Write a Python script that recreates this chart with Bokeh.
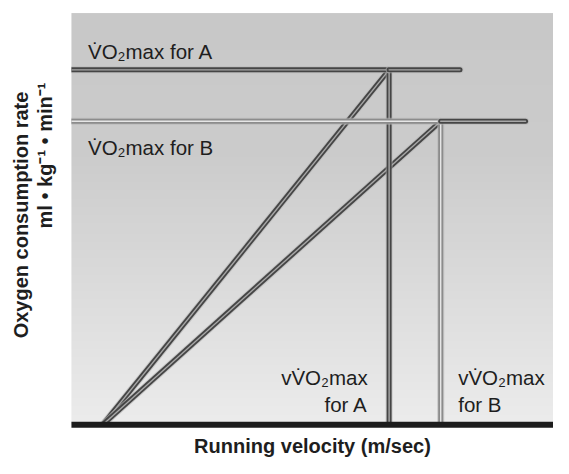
import numpy as np
from bokeh.plotting import figure
from bokeh.models import Range1d
from bokeh.embed import file_html
from bokeh.resources import INLINE
from bokeh.core.properties import value

# ---------------- data (arbitrary units) ----------------
runners = ["A", "B"]
v_start = 6.5                 # velocity where both VO2 lines start
vvo2max = [65.9, 76.6]        # vVO2max for A, B
vo2max = [86.2, 73.7]         # VO2max for A, B
plateau_end = [80.6, 94.2]    # where each VO2max plateau line ends
chart_top = 100.0
chart_right = 100.0
x_label = "Running velocity (m/sec)"
y_label = ["Oxygen consumption rate", "ml \u2022 kg\u207b\u00b9 \u2022 min\u207b\u00b9"]
vo2_text = "V\u0307O\u2082max"

# ---------------- layout ----------------
W, H = 553, 458
REF_W, REF_H = 569, 474
RX0, RY0 = 73, 439          # reference px of the origin
RPX_X, RPX_Y = 4.96, 4.26   # reference px per data unit
BL = 7                      # baseline correction (px) for text anchors


def dx(px):
    return px / RPX_X


def dy(px):
    return px / RPX_Y


p = figure(width=W, height=H, output_backend="svg", toolbar_location=None,
           x_range=Range1d(-RX0 / RPX_X, (REF_W - RX0) / RPX_X),
           y_range=Range1d(-(REF_H - RY0) / RPX_Y, RY0 / RPX_Y),
           min_border=0, outline_line_color=None)
p.axis.visible = False
p.grid.visible = False
p.background_fill_color = "white"
p.border_fill_color = "white"

# gradient background of the chart area
n = 200
t = np.linspace(0, 1, n)  # 0 bottom -> 1 top
g = np.where(t > 0.65, 204 - (t - 0.65) / 0.35 * 4, 236 - t / 0.65 * 32).astype(np.uint32)
img = np.zeros((n, 1), dtype=np.uint32)
view = img.view(dtype=np.uint8).reshape((n, 1, 4))
view[:, 0, 0] = g
view[:, 0, 1] = g
view[:, 0, 2] = g
view[:, 0, 3] = 255
p.image_rgba(image=[img], x=0, y=0, dw=chart_right, dh=chart_top)

FONT = value("Liberation Sans")


def tube(xs, ys, dark, light, cap="butt"):
    p.line(xs, ys, line_width=7, line_color="#b4b4b4", line_alpha=0.6, line_cap=cap)
    p.line(xs, ys, line_width=5, line_color=dark, line_cap=cap)
    p.line(xs, ys, line_width=1.4, line_color=light, line_cap=cap)


DARK, DARK_IN = "#454545", "#a8a8a8"
LIGHT, LIGHT_IN = "#8c8c8c", "#e6e6e6"

vA, vB = vvo2max
oA, oB = vo2max
eA, eB = plateau_end

# diagonals
tube([v_start, vA], [0, oA], DARK, DARK_IN)
tube([v_start, vB], [0, oB], DARK, DARK_IN)
# verticals
tube([vA, vA], [0, oA], DARK, DARK_IN)
tube([vB, vB], [0, oB], LIGHT, LIGHT_IN)
# plateaus
tube([0, vA], [oA, oA], DARK, DARK_IN)
tube([vA, eA], [oA, oA], DARK, DARK_IN, cap="round")
tube([0, vB], [oB, oB], LIGHT, LIGHT_IN)
tube([vB, eB], [oB, oB], DARK, DARK_IN, cap="round")

# x axis bar
p.line([0, chart_right], [0, 0], line_width=6, line_color="#1c1c1c")

TXT = dict(text_font=FONT, text_font_size="20.5px", text_color="#1e1e1e")
p.text(x=[dx(17)], y=[oA + dy(12 + BL)], text=[vo2_text + " for " + runners[0]],
       text_align="left", text_baseline="alphabetic", **TXT)
p.text(x=[dx(17)], y=[oB - dy(34 - BL)], text=[vo2_text + " for " + runners[1]],
       text_align="left", text_baseline="alphabetic", **TXT)
p.text(x=[vA - dx(22)] * 2, y=[dy(42 + BL), dy(14 + BL)],
       text=["v" + vo2_text, "for " + runners[0]],
       text_align="right", text_baseline="alphabetic", **TXT)
p.text(x=[vB + dx(18)] * 2, y=[dy(42 + BL), dy(14 + BL)],
       text=["v" + vo2_text, "for " + runners[1]],
       text_align="left", text_baseline="alphabetic", **TXT)

LBL = dict(text_font=FONT, text_font_size="20px", text_font_style="bold", text_color="#1e1e1e")
p.text(x=[chart_right / 2], y=[-dy(29 - BL)], text=[x_label],
       text_align="center", text_baseline="alphabetic", **LBL)
p.text(x=[-dx(45 + BL)], y=[dy(217)], text=[y_label[0]], angle=np.pi / 2,
       text_align="center", text_baseline="alphabetic", **LBL)
p.text(x=[-dx(20 + BL)], y=[dy(354)], text=[y_label[1]], angle=np.pi / 2,
       text_align="right", text_baseline="alphabetic", **LBL)

open("out.html", "w").write(file_html(p, INLINE))
